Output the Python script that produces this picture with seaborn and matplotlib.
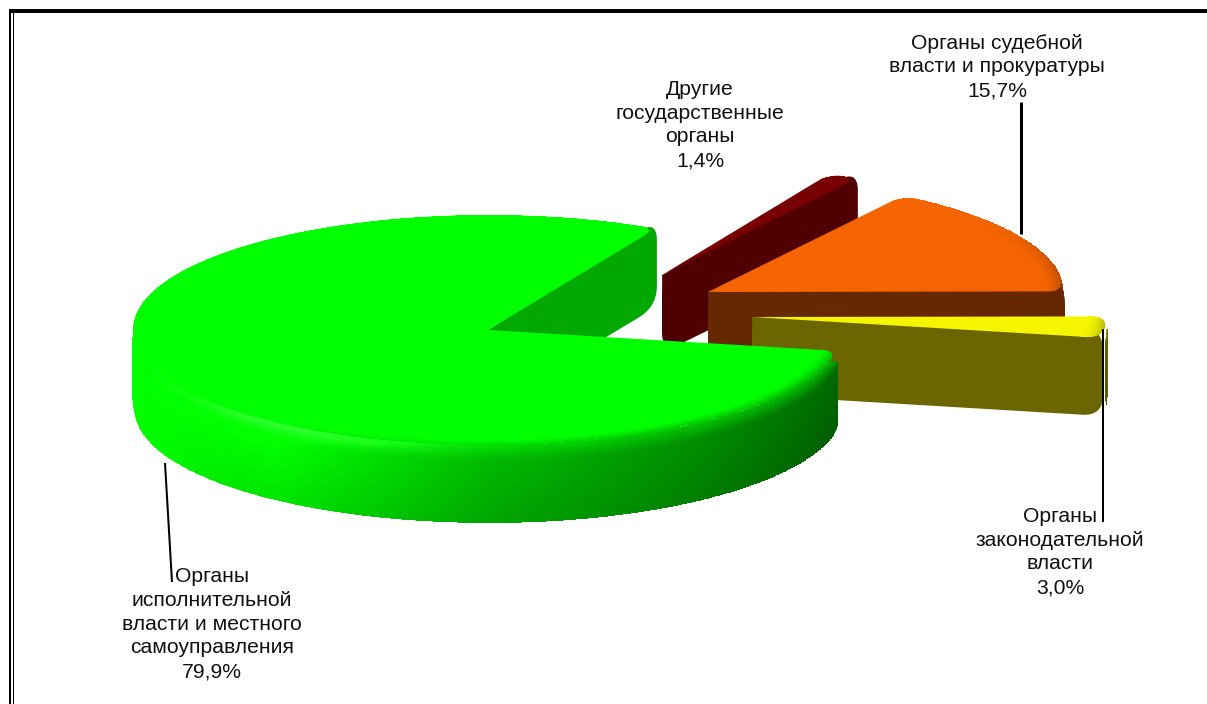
import numpy as np
import seaborn as sns
import matplotlib.pyplot as plt
from matplotlib.path import Path

# values, counter clockwise from the first slice
names = ["Органы\nзаконодательной\nвласти", "Органы судебной\nвласти и прокуратуры",
         "Другие\nгосударственные\nорганы", "Органы\nисполнительной\nвласти и местного\nсамоуправления"]
shares = [3.0, 15.7, 1.4, 79.9]

# look of the slices
top_hex = ["#f5f500", "#f56400", "#780000", "#00ff00"]
wall_hex = ["#6b6600", "#662800", "#500000", "#00a800"]
apex_xy = [(752, 317), (708, 292), (662, 275), (488, 330)]
label_xy = [(1060, 552), (997, 67), (700, 125), (212, 624)]
leaders = [[(1103, 329), (1103, 522)], [(1021, 102), (1021, 234)], None, [(165, 463), (172, 582)]]
leader_px = [2, 3, 2, 2]
draw_order = [2, 1, 0, 3]

start_angle = -10.5
rx, ry, depth = 356, 115, 78

sns.set_theme(style="white")
plt.rcParams["font.family"] = ["Liberation Sans", "DejaVu Sans"]
top_cols = np.array(sns.color_palette(top_hex))
wall_cols = np.array(sns.color_palette(wall_hex))

fig = plt.figure(figsize=(12.07, 7.04), dpi=100)
ax = fig.add_axes([0, 0, 1, 1])
ax.set_xlim(0, 1207)
ax.set_ylim(704, 0)
ax.axis("off")


def rim(apex, t, r=1.0, z=0.0):
    a = np.radians(t)
    return apex[0] + r * rx * np.cos(a), apex[1] - r * ry * np.sin(a) + z


def smooth(pts, win=20, sharp=None):
    # resample the outline every pixel and average it, which rounds the corners
    pts = np.asarray(pts, float)
    closed = np.vstack([pts, pts[:1]])
    seg = np.hypot(*np.diff(closed, axis=0).T)
    s = np.r_[0, np.cumsum(seg)]
    u = np.arange(0, s[-1], 1.0)
    x, y = np.interp(u, s, closed[:, 0]), np.interp(u, s, closed[:, 1])
    kern = np.ones(win) / win
    xs = np.convolve(np.r_[x[-win:], x, x[:win]], kern, "same")[win:-win]
    ys = np.convolve(np.r_[y[-win:], y, y[:win]], kern, "same")[win:-win]
    if sharp is not None:
        keep = np.clip(np.hypot(x - sharp[0], y - sharp[1]) / (win * 1.5), 0, 1)
        xs, ys = x + (xs - x) * keep, y + (ys - y) * keep
    return np.column_stack([xs, ys])


def shade(t):
    c = np.cos(np.radians(t))
    return np.interp(c, [-1, -0.6, 0, 0.6, 1], [1.0, 1.0, 0.72, 0.55, 0.4])


def near(t):
    # 1 on the side facing the viewer, 0 on the far side
    return np.clip(1 - np.sin(np.radians(t)) * 1.6, 0, 1)


def envelope(apex, a0, a1):
    # outline of the side seen from the front: lowest and highest y for each x
    t = np.arange(a0, a1, 0.02)
    x, y = rim(apex, t)
    xb = np.arange(np.floor(x.min()), np.ceil(x.max()) + 4, 3.0)
    idx = np.searchsorted(xb, x)
    lo = np.full(len(xb), np.inf)
    hi = np.full(len(xb), -np.inf)
    np.minimum.at(lo, idx, y)
    np.maximum.at(hi, idx, y + depth)
    ok = np.isfinite(lo)
    return np.column_stack([np.r_[xb[ok], xb[ok][::-1]], np.r_[lo[ok], hi[ok][::-1]]])


def draw_slice(i, a0, a1, base):
    apex, top, wall = apex_xy[i], top_cols[i], wall_cols[i]
    ts = np.linspace(a0, a1, max(int(a1 - a0) * 3, 40))

    # outer side, from the rim downwards; slices cut at the back hide its first degrees
    a_side = a0 + 4 if np.sin(np.radians(a0)) > 0.5 else a0
    ss = np.linspace(a_side, a1, max(int(a1 - a_side) * 3, 40))
    zs = np.linspace(0, depth, 27)
    tg, zg = np.meshgrid(ss, zs)
    X, Y = rim(apex, tg, z=zg)
    tc = (tg[:-1, :-1] + tg[1:, 1:]) / 2
    zc = (zg[:-1, :-1] + zg[1:, 1:]) / 2
    bend = 0.5 * near(tc) + (1 - 0.5 * near(tc)) * np.clip(zc / 16, 0, 1)
    low = np.interp(np.cos(np.radians(tc)), [-1, -0.7], [1.0, 0.9])
    fade = (1 - bend) + bend * shade(tc) * (1 + (low - 1) * np.clip((zc - 20) / (depth - 20), 0, 1))
    rgb = fade[..., None] * top
    glow = 0.2 * np.exp(-((tc - 235) / 22) ** 2) * np.exp(-(zc / 9) ** 2)
    rgb = np.clip(rgb + glow[..., None], 0, 1)
    side = ax.pcolormesh(X, Y, rgb, shading="flat", zorder=base + 1)
    outline = smooth(envelope(apex, a_side, a1), 46)
    side.set_clip_path(Path(np.vstack([outline, outline[:1]])), ax.transData)

    # cut wall of the slice, its upper corner reaches under the rounded top face
    ex, ey = rim(apex, a0)
    wall_pts = [apex, (ex + 1, ey - 9), (ex + 1, ey + depth), (apex[0], apex[1] + depth)]
    ax.fill(*smooth(wall_pts, 42, sharp=apex).T, color=wall, lw=0, zorder=base + 2)

    # top face
    tx, ty = rim(apex, ts)
    top_pts = smooth(np.column_stack([np.r_[apex[0], tx], np.r_[apex[1], ty]]), 32, sharp=apex)
    ax.fill(*top_pts.T, color=top, lw=0, zorder=base + 3)

    # bevel along the rim of the top face, it runs into the side colour
    rs = np.linspace(0.94, 1.0, 9)
    tg, rg = np.meshgrid(ts, rs)
    X, Y = rim(apex, tg, r=rg)
    tc = (tg[:-1, :-1] + tg[1:, 1:]) / 2
    rc = (rg[:-1, :-1] + rg[1:, 1:]) / 2
    w = (0.5 * near(tc) * ((rc - 0.94) / 0.06) ** 2)[..., None]
    rgb = top * (1 - w) + top * shade(tc)[..., None] * w
    bevel = ax.pcolormesh(X, Y, rgb, shading="flat", zorder=base + 4)
    bevel.set_clip_path(Path(np.vstack([top_pts, top_pts[:1]])), ax.transData)


edges = start_angle + np.r_[0, np.cumsum(shares)] * 3.6
for k, i in enumerate(draw_order):
    draw_slice(i, edges[i], edges[i + 1], k * 10)

for i, name in enumerate(names):
    pct = f"{shares[i]:.1f}".replace(".", ",") + "%"
    ax.text(*label_xy[i], name + "\n" + pct, ha="center", va="center", fontsize=15.2,
            color="#111111", linespacing=1.32, zorder=90)
    if leaders[i] is not None:
        (x0, y0), (x1, y1) = leaders[i]
        ax.plot([x0, x1], [y0, y1], color="black", lw=leader_px[i] * 0.72,
                solid_capstyle="butt", zorder=95)

# frame of the picture
ax.plot([9, 1207], [11, 11], color="black", lw=4 * 0.72, solid_capstyle="butt", zorder=99)
ax.plot([10, 10], [9, 704], color="black", lw=2 * 0.72, solid_capstyle="butt", zorder=99)
ax.plot([12.7, 12.7], [9, 704], color="black", lw=1 * 0.72, solid_capstyle="butt", zorder=99)

fig.savefig("out.png", dpi=100)
